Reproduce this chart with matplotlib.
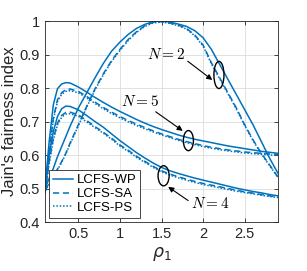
import matplotlib
matplotlib.use("Agg")
from matplotlib import pyplot as plt
from matplotlib.patches import Ellipse

plt.rcParams['font.family'] = ['Liberation Sans', 'DejaVu Sans']

rho = [0.1, 0.15, 0.2, 0.25, 0.3, 0.35, 0.4, 0.5, 0.6, 0.7, 0.8, 0.9, 1.0, 1.1, 1.2,
       1.3, 1.4, 1.5, 1.6, 1.7, 1.8, 1.9, 2.0, 2.1, 2.2, 2.3, 2.4, 2.5, 2.6, 2.7, 2.8, 2.9]

# N = 2
n2_wp = [0.50, 0.53, 0.56, 0.595, 0.625, 0.655, 0.685, 0.74, 0.785, 0.83, 0.873, 0.91, 0.937,
         0.96, 0.978, 0.99, 0.998, 1.0, 0.997, 0.991, 0.984, 0.971, 0.95, 0.915, 0.87, 0.825,
         0.78, 0.735, 0.69, 0.64, 0.59, 0.545]
n2_sa = [0.495, 0.515, 0.537, 0.558, 0.58, 0.605, 0.635, 0.69, 0.745, 0.797, 0.842, 0.882, 0.915,
         0.945, 0.968, 0.986, 0.996, 0.998, 0.994, 0.988, 0.978, 0.958, 0.928, 0.875, 0.83, 0.785,
         0.74, 0.69, 0.645, 0.605, 0.57, 0.534]
n2_ps = [0.493, 0.513, 0.535, 0.556, 0.578, 0.603, 0.632, 0.687, 0.742, 0.794, 0.839, 0.879, 0.912,
         0.942, 0.966, 0.984, 0.994, 0.997, 0.993, 0.986, 0.976, 0.956, 0.925, 0.872, 0.827, 0.782,
         0.737, 0.688, 0.643, 0.603, 0.568, 0.532]

# N = 5
n5_wp = [0.50, 0.64, 0.75, 0.798, 0.812, 0.816, 0.815, 0.803, 0.788, 0.772, 0.757, 0.743, 0.73,
         0.718, 0.706, 0.695, 0.685, 0.676, 0.668, 0.66, 0.653, 0.647, 0.642, 0.637, 0.632, 0.627,
         0.623, 0.619, 0.615, 0.611, 0.608, 0.605]
n5_sa = [0.49, 0.61, 0.71, 0.765, 0.786, 0.795, 0.797, 0.79, 0.775, 0.758, 0.742, 0.728, 0.715,
         0.703, 0.692, 0.682, 0.672, 0.663, 0.655, 0.647, 0.64, 0.634, 0.628, 0.623, 0.619, 0.615,
         0.612, 0.609, 0.607, 0.605, 0.603, 0.602]
n5_ps = [0.49, 0.605, 0.705, 0.76, 0.781, 0.79, 0.792, 0.786, 0.771, 0.754, 0.738, 0.724, 0.711,
         0.699, 0.688, 0.678, 0.669, 0.66, 0.652, 0.644, 0.637, 0.631, 0.625, 0.62, 0.616, 0.612,
         0.609, 0.606, 0.604, 0.602, 0.6, 0.599]

# N = 4
n4_wp = [0.49, 0.60, 0.67, 0.715, 0.738, 0.746, 0.745, 0.735, 0.718, 0.70, 0.683, 0.663, 0.643,
         0.625, 0.607, 0.591, 0.576, 0.563, 0.553, 0.545, 0.538, 0.531, 0.525, 0.519, 0.513, 0.507,
         0.501, 0.496, 0.491, 0.487, 0.482, 0.478]
n4_sa = [0.485, 0.58, 0.65, 0.695, 0.718, 0.727, 0.728, 0.72, 0.703, 0.685, 0.668, 0.65, 0.63,
         0.614, 0.596, 0.581, 0.566, 0.553, 0.543, 0.535, 0.528, 0.521, 0.515, 0.51, 0.505, 0.5,
         0.495, 0.49, 0.486, 0.482, 0.478, 0.475]
n4_ps = [0.483, 0.575, 0.645, 0.69, 0.713, 0.722, 0.723, 0.716, 0.699, 0.682, 0.665, 0.647, 0.627,
         0.611, 0.593, 0.578, 0.563, 0.55, 0.54, 0.532, 0.525, 0.518, 0.512, 0.507, 0.502, 0.497,
         0.492, 0.488, 0.484, 0.48, 0.476, 0.473]

labels = ['LCFS-WP', 'LCFS-SA', 'LCFS-PS']
blue = '#0072BD'
dark = '#262626'

fig = plt.figure(figsize=(3.07, 2.71), dpi=100)
ax = fig.add_axes([0.1466, 0.1808, 0.759, 0.7417])

lw = 1.1
for wp, sa, ps in [(n2_wp, n2_sa, n2_ps), (n5_wp, n5_sa, n5_ps), (n4_wp, n4_sa, n4_ps)]:
    ax.plot(rho, wp, color=blue, lw=lw, ls='-')
    ax.plot(rho, sa, color=blue, lw=lw, dashes=(4, 2.5))
    ax.plot(rho, ps, color=blue, lw=lw, dashes=(1, 1.2))

# legend handles
h1, = ax.plot([], [], color=blue, lw=lw, ls='-')
h2, = ax.plot([], [], color=blue, lw=lw, dashes=(4, 2.5))
h3, = ax.plot([], [], color=blue, lw=lw, dashes=(1, 1.2))
leg = ax.legend([h1, h2, h3], labels, loc='lower left', fontsize=9.5, handlelength=1.5,
                handletextpad=0.3, labelspacing=0.12, borderpad=0.3, borderaxespad=0.3,
                fancybox=False, framealpha=1, edgecolor=dark)
leg.get_frame().set_linewidth(0.6)

ax.set_xlim(0.1, 2.9)
ax.set_ylim(0.4, 1.0)
ax.set_xticks([0.5, 1, 1.5, 2, 2.5])
ax.set_xticklabels(['0.5', '1', '1.5', '2', '2.5'])
ax.set_yticks([0.4, 0.5, 0.6, 0.7, 0.8, 0.9, 1.0])
ax.set_yticklabels(['0.4', '0.5', '0.6', '0.7', '0.8', '0.9', '1'])
ax.tick_params(direction='in', length=3, width=0.6, colors=dark, labelsize=10.5,
               top=True, right=True)
ax.grid(True, color='#dcdcdc', lw=0.6)
ax.set_axisbelow(True)
for s in ax.spines.values():
    s.set_color(dark)
    s.set_linewidth(0.6)

ax.set_xlabel(r'$\rho_1$', fontsize=12.5, color=dark, labelpad=3)
ax.set_ylabel("Jain's fairness index", fontsize=12, color=dark, labelpad=2)

# annotations
for (cx, cy, w, h) in [(2.19, 0.839, 0.121, 0.081), (1.823, 0.643, 0.121, 0.06),
                       (1.525, 0.538, 0.133, 0.06)]:
    ax.add_patch(Ellipse((cx, cy), w, h, fill=False, ec='black', lw=1.0, zorder=5))

arr = dict(arrowstyle='-|>', color='black', lw=0.8, mutation_scale=8, shrinkA=0, shrinkB=0)
ax.annotate('', xy=(2.11, 0.824), xytext=(1.815, 0.88), arrowprops=arr)
ax.annotate('', xy=(1.755, 0.672), xytext=(1.43, 0.729), arrowprops=arr)
ax.annotate('', xy=(1.58, 0.505), xytext=(1.82, 0.464), arrowprops=arr)
ax.text(1.56, 0.9, r'$N=2$', fontsize=11, ha='center', va='center', math_fontfamily='cm')
ax.text(1.244, 0.759, r'$N=5$', fontsize=11, ha='center', va='center', math_fontfamily='cm')
ax.text(2.09, 0.454, r'$N=4$', fontsize=11, ha='center', va='center', math_fontfamily='cm')

fig.savefig('out.png', dpi=100)
